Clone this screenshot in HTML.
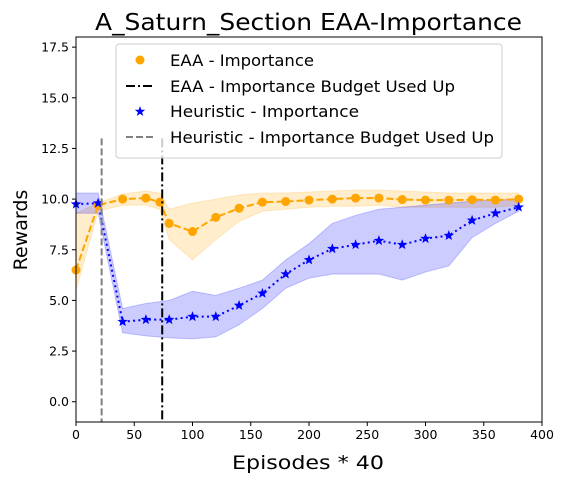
<!DOCTYPE html>
<html><head><meta charset="utf-8"><style>body{margin:0;background:#fff}svg{display:block;font-family:"DejaVu Sans","Liberation Sans",sans-serif}</style></head>
<body>
<svg id="chart" width="564" height="481" xmlns="http://www.w3.org/2000/svg"></svg>
<script>
const eaaX=[0,19,40,60,72,80,100,120,140,160,180,200,220,240,260,280,300,320,340,360,380];
const eaaY=[6.5,9.7,10.0,10.05,9.85,8.8,8.4,9.1,9.55,9.85,9.88,9.95,10.0,10.05,10.05,9.98,9.95,9.95,9.97,9.95,10.0];
const eaaUp=[9.3,9.8,10.25,10.4,10.3,9.5,9.8,10.0,10.2,10.3,10.3,10.35,10.4,10.45,10.45,10.4,10.35,10.3,10.3,10.3,10.3];
const eaaLo=[5.5,9.4,9.7,9.7,9.5,8.0,7.0,8.0,8.9,9.4,9.5,9.6,9.65,9.65,9.7,9.6,9.6,9.6,9.6,9.6,9.7];
const heuX=[0,19,40,60,80,100,120,140,160,180,200,220,240,260,280,300,320,340,360,380];
const heuY=[9.75,9.8,3.95,4.05,4.05,4.2,4.2,4.75,5.35,6.3,7.0,7.55,7.75,7.95,7.75,8.05,8.2,8.95,9.3,9.6];
const heuUp=[10.3,10.3,4.6,4.85,5.0,5.45,5.25,5.6,6.0,7.0,7.8,8.8,9.2,9.5,9.6,9.7,9.8,9.9,9.95,10.0];
const heuLo=[9.3,9.3,3.4,3.25,3.15,3.1,3.2,3.8,4.6,5.6,6.1,6.3,6.3,6.3,6.0,6.4,6.7,8.1,8.8,9.4];
const eaaBudget=74, heuBudget=22, budgetTop=13.0;
const xTicks=[0,50,100,150,200,250,300,350,400];
const yTicks=[0.0,2.5,5.0,7.5,10.0,12.5,15.0,17.5];
const L=76,R=542,T=37,B=422,xMin=0,xMax=400,yMin=-1,yMax=18;
const sx=v=>L+(v-xMin)/(xMax-xMin)*(R-L);
const sy=v=>B-(v-yMin)/(yMax-yMin)*(B-T);
const svg=document.getElementById('chart');const NS='http://www.w3.org/2000/svg';
function mk(tag,attrs,parent){const e=document.createElementNS(NS,tag);for(const k in attrs)e.setAttribute(k,attrs[k]);(parent||svg).appendChild(e);return e;}
function band(xs,up,lo,color,name){const pts=xs.map((x,i)=>sx(x)+','+sy(up[i])).concat(xs.map((x,i)=>sx(x)+','+sy(lo[i])).reverse());const p=mk('polygon',{points:pts.join(' '),fill:color,'fill-opacity':0.2,stroke:color,'stroke-opacity':0.2});}
band(eaaX,eaaUp,eaaLo,'orange','eaa-band');
band(heuX,heuUp,heuLo,'blue','heuristic-band');
function line(xs,ys,color,dash,name){const p=mk('polyline',{points:xs.map((x,i)=>sx(x)+','+sy(ys[i])).join(' '),fill:'none',stroke:color,'stroke-width':2,'stroke-dasharray':dash});}
line(eaaX,eaaY,'orange','7,3','eaa-line');
line(heuX,heuY,'blue','2,3.3','heuristic-line');
function star(cx,cy,r){let s='';for(let i=0;i<10;i++){const a=-Math.PI/2+i*Math.PI/5;const rr=i%2?r*0.42:r;s+=(cx+rr*Math.cos(a))+','+(cy+rr*Math.sin(a))+' ';}return s;}
eaaX.forEach((x,i)=>{const c=mk('circle',{cx:sx(x),cy:sy(eaaY[i]),r:4.5,fill:'orange'});});
heuX.forEach((x,i)=>{const c=mk('polygon',{points:star(sx(x),sy(heuY[i]),5.5),fill:'blue'});});
const v1=mk('line',{x1:sx(eaaBudget),x2:sx(eaaBudget),y1:sy(budgetTop),y2:B,stroke:'black','stroke-width':2,'stroke-dasharray':'9,3,2,3'});
const v2=mk('line',{x1:sx(heuBudget),x2:sx(heuBudget),y1:sy(budgetTop),y2:B,stroke:'gray','stroke-width':2,'stroke-dasharray':'7,3'});
const fr=mk('rect',{x:L,y:T,width:R-L,height:B-T,fill:'none',stroke:'black','stroke-width':1});
xTicks.forEach(t=>{mk('line',{x1:sx(t),x2:sx(t),y1:B,y2:B+4,stroke:'black'});const e=mk('text',{x:sx(t),y:B+17,'text-anchor':'middle','font-size':12.5});e.textContent=t;});
yTicks.forEach(t=>{mk('line',{x1:L-4,x2:L,y1:sy(t),y2:sy(t),stroke:'black'});const e=mk('text',{x:L-7,y:sy(t)+4.5,'text-anchor':'end','font-size':12.5});e.textContent=t.toFixed(1);});
</script>
<svg style="position:absolute;left:0;top:0" width="564" height="481" xmlns="http://www.w3.org/2000/svg" font-family="DejaVu Sans, Liberation Sans, sans-serif">
<text x="95" y="30" font-size="23" textLength="427" lengthAdjust="spacingAndGlyphs">A_Saturn_Section EAA-Importance</text>
<text x="232" y="469" font-size="19" textLength="152" lengthAdjust="spacingAndGlyphs">Episodes * 40</text>
<text transform="translate(27,230) rotate(-90)" text-anchor="middle" font-size="19">Rewards</text>
<g>
<rect x="116" y="44" width="386" height="114" rx="3" fill="#fff" fill-opacity="0.8" stroke="#ccc"/>
<circle cx="140" cy="60" r="4.5" fill="orange"/>
<text x="170" y="66" font-size="16" textLength="144" lengthAdjust="spacingAndGlyphs">EAA - Importance</text>
<line x1="126" x2="154" y1="86" y2="86" stroke="black" stroke-width="2" stroke-dasharray="9,3,2,3"/>
<text x="170" y="92" font-size="16" textLength="285" lengthAdjust="spacingAndGlyphs">EAA - Importance Budget Used Up</text>
<polygon points="140,106 141.3,109.8 145.2,109.8 142.1,112.2 143.2,116 140,113.7 136.8,116 137.9,112.2 134.8,109.8 138.7,109.8" fill="blue"/>
<text x="170" y="117" font-size="16" textLength="189" lengthAdjust="spacingAndGlyphs">Heuristic - Importance</text>
<line x1="126" x2="154" y1="137" y2="137" stroke="gray" stroke-width="2" stroke-dasharray="7,3"/>
<text x="170" y="143" font-size="16" textLength="324" lengthAdjust="spacingAndGlyphs">Heuristic - Importance Budget Used Up</text>
</g>
</svg>
</body></html>
